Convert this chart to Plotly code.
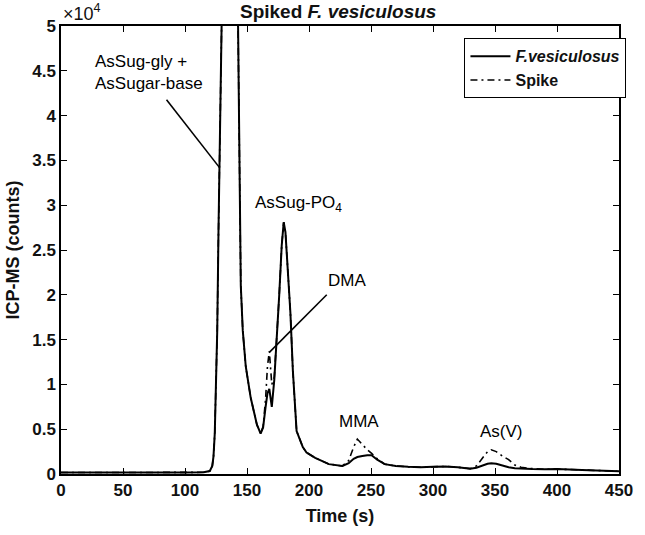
import plotly.graph_objects as go

time_s = [0, 20, 40, 60, 80, 100, 115, 118, 120, 122, 123, 124, 125, 126, 127, 128, 129, 132, 135, 138,
          140, 141, 142, 142.8, 143.5, 144.2, 145, 146.6, 149, 153, 158, 161, 163, 165, 166.5, 168, 170, 172, 174,
          176, 178, 179.6, 181, 183, 185, 187, 188.5, 190, 195, 198, 205, 216, 227, 232, 236, 239, 243,
          247, 250.5, 255, 261, 270, 280, 290, 300, 310, 320, 330, 335, 340, 344, 347, 351, 356, 361,
          366, 371, 380, 390, 400, 420, 440, 450]

fves_counts = [160, 150, 170, 160, 170, 180, 190, 230, 330, 900, 2000, 4500, 9000, 16000, 27000, 40000,
               55000, 90000, 100000, 95000, 85000, 75000, 60000, 50000, 40000, 30000, 21000, 16000, 12000, 8500,
               5500, 4500, 5200, 7500, 9000, 9500, 7500, 10500, 15000, 20000, 25500, 28100, 27000, 23000,
               18000, 11500, 7500, 4800, 3000, 2400, 1800, 1100, 900, 1200, 1700, 1900, 2000, 2100, 2100,
               1600, 1100, 900, 800, 750, 800, 850, 750, 600, 700, 950, 1150, 1200, 1150, 950, 750, 650,
               600, 550, 520, 550, 450, 350, 300]

spike_counts = [160, 150, 170, 160, 170, 180, 190, 230, 330, 900, 2000, 4500, 9000, 16000, 27000, 40000,
                55000, 90000, 100000, 95000, 85000, 75000, 60000, 50000, 40000, 30000, 21000, 16000, 12000, 8500,
                5500, 4500, 5300, 8400, 12000, 13700, 10000, 10800, 15000, 20000, 25500, 28100, 27000, 23000,
                18000, 11500, 7500, 4800, 3000, 2400, 1800, 1100, 900, 1500, 3000, 3900, 3300, 2700, 2300,
                1700, 1100, 900, 800, 750, 800, 850, 750, 600, 900, 1800, 2500, 2700, 2500, 2000, 1600, 1000,
                750, 600, 520, 550, 450, 350, 300]

series_names = ["<i>F.vesiculosus</i>", "Spike"]
x_ticks = [0, 50, 100, 150, 200, 250, 300, 350, 400, 450]
y_ticks = [0, 5000, 10000, 15000, 20000, 25000, 30000, 35000, 40000, 45000, 50000]
y_ticktext = ["0", "0.5", "1", "1.5", "2", "2.5", "3", "3.5", "4", "4.5", "5"]

FONT = "Liberation Sans, Arial, sans-serif"
INK = "#111111"

fig = go.Figure()
fig.add_trace(go.Scatter(x=time_s, y=fves_counts, mode="lines", name=series_names[0],
                         line=dict(color="black", width=2)))
fig.add_trace(go.Scatter(x=time_s, y=spike_counts, mode="lines", name=series_names[1],
                         line=dict(color="black", width=1.6, dash="7px,4px,2px,4px")))

ann_font = dict(family=FONT, size=17, color="black")
fig.add_annotation(x=26, y=44800, text="AsSug-gly +<br>AsSugar-base", showarrow=False,
                   xanchor="left", yanchor="middle", align="left", font=ann_font)
fig.add_annotation(x=154.5, y=30100, text="AsSug-PO<sub>4</sub>", showarrow=False,
                   xanchor="left", yanchor="middle", font=ann_font)
fig.add_annotation(x=213.6, y=21550, text="DMA", showarrow=False,
                   xanchor="left", yanchor="middle", font=ann_font)
fig.add_annotation(x=222.5, y=5900, text="MMA", showarrow=False,
                   xanchor="left", yanchor="middle", font=ann_font)
fig.add_annotation(x=336.5, y=4780, text="As(V)", showarrow=False,
                   xanchor="left", yanchor="middle", font=ann_font)

fig.add_shape(type="line", x0=85.1, y0=41778, x1=127.7, y1=34222, line=dict(color="black", width=1.6))
fig.add_shape(type="line", x0=214.3, y0=20000, x1=167.8, y1=13550, line=dict(color="black", width=1.6))

fig.add_annotation(xref="paper", yref="paper", x=0.497, y=1, yanchor="bottom", yshift=2,
                   text="<b>Spiked <i>F. vesiculosus</i></b>", showarrow=False,
                   font=dict(family=FONT, size=19, color=INK))
fig.add_annotation(xref="paper", yref="paper", x=0, y=1, xanchor="left", yanchor="bottom", yshift=0,
                   text="×10<sup>4</sup>", showarrow=False,
                   font=dict(family=FONT, size=18, color=INK))

axis_common = dict(showline=True, linecolor="black", linewidth=1.5, mirror="ticks", ticks="inside",
                   ticklen=6, tickwidth=1.3, tickcolor="black", showgrid=False, zeroline=False,
                   tickfont=dict(family=FONT, size=17, color=INK, weight="bold"))

fig.update_xaxes(range=[0, 450], tickvals=x_ticks,
                 title=dict(text="Time (s)", font=dict(family=FONT, size=18, color=INK, weight="bold"),
                            standoff=10), **axis_common)
fig.update_yaxes(range=[0, 50000], tickvals=y_ticks, ticktext=y_ticktext,
                 title=dict(text="ICP-MS (counts)", font=dict(family=FONT, size=18, color=INK, weight="bold"),
                            standoff=8), **axis_common)

fig.update_layout(
    width=645, height=535,
    margin=dict(l=59, r=15, t=26, b=59),
    plot_bgcolor="white", paper_bgcolor="white",
    showlegend=True,
    legend=dict(x=1.013, y=0.973, xanchor="right", yanchor="top", bordercolor="black", borderwidth=1.2,
                bgcolor="white", font=dict(family=FONT, size=16, color=INK, weight="bold"),
                tracegroupgap=0, itemwidth=40, entrywidth=176, entrywidthmode="pixels"),
)

fig.write_html("out.html")
